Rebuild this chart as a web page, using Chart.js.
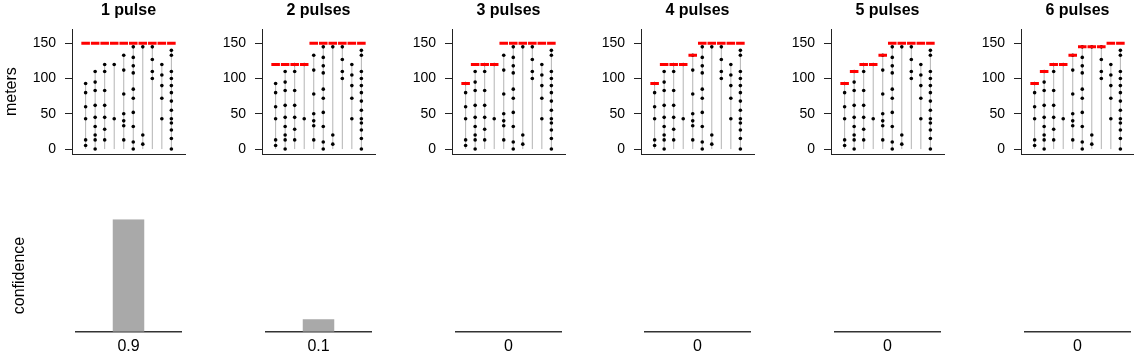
<!DOCTYPE html>
<html>
<head>
<meta charset="utf-8">
<script src="https://cdn.jsdelivr.net/npm/chart.js@4"></script>
<style>
  html, body { margin: 0; padding: 0; background: #fff; }
  body { width: 1134px; height: 357px; position: relative; overflow: hidden; }
  .box { position: absolute; }
</style>
</head>
<body>
<script>
// ---------------- data ----------------
const panelTitles = ['1 pulse', '2 pulses', '3 pulses', '4 pulses', '5 pulses', '6 pulses'];
const columnX = [1, 2, 3, 4, 5, 6, 7, 8, 9, 10];
const col1 = [93, 80, 60, 43, 13, 5];
const col2 = [110, 95, 83, 62, 45, 32, 20, 13, 0];
const col3 = [120, 110, 83, 62, 45, 28, 13];
const col4 = [120, 43];
const col5 = [133, 112, 78, 50, 40, 33, 13];
const col6 = [145, 130, 118, 108, 85, 72, 52, 32, 10, 0];
const col7 = [145, 20, 7];
const col8 = [145, 127, 110, 100];
const col9 = [120, 105, 90, 72, 43];
const col10 = [140, 133, 110, 100, 90, 80, 68, 55, 43, 37, 27, 15, 0];
const columns = [col1, col2, col3, col4, col5, col6, col7, col8, col9, col10];
const redLevels1 = [150, 150, 150, 150, 150, 150, 150, 150, 150, 150];
const redLevels2 = [120, 120, 120, 120, 150, 150, 150, 150, 150, 150];
const redLevels3 = [93, 120, 120, 120, 150, 150, 150, 150, 150, 150];
const redLevels4 = [93, 120, 120, 120, 133, 150, 150, 150, 150, 150];
const redLevels5 = [93, 110, 120, 120, 133, 150, 150, 150, 150, 150];
const redLevels6 = [93, 110, 120, 120, 133, 145, 145, 145, 150, 150];
const redLevels = [redLevels1, redLevels2, redLevels3, redLevels4, redLevels5, redLevels6];
const confidence = [0.9, 0.1, 0, 0, 0, 0];
const confidenceLabels = ['0.9', '0.1', '0', '0', '0', '0'];
const yTicks = [0, 50, 100, 150];

// ---------------- rendering ----------------
Chart.defaults.font.family = "'Liberation Sans', Arial, Helvetica, sans-serif";
Chart.defaults.color = '#000';

const PANEL_STEP = 189.8;
const RED_HALF = 0.45;

function makeCanvas(left, top, w, h) {
  const d = document.createElement('div');
  d.className = 'box';
  d.style.left = left + 'px';
  d.style.top = top + 'px';
  d.style.width = w + 'px';
  d.style.height = h + 'px';
  const c = document.createElement('canvas');
  c.width = w; c.height = h;
  c.style.width = w + 'px'; c.style.height = h + 'px';
  d.appendChild(c);
  document.body.appendChild(d);
  return c;
}

for (let i = 0; i < 6; i++) {
  const left = Math.round(PANEL_STEP * i);

  const stems = [];
  const dots = [];
  const reds = [];
  columns.forEach((vals, k) => {
    const x = columnX[k];
    const top = Math.max(...vals);
    stems.push({x: x, y: 0}, {x: x, y: top}, {x: x, y: null});
    vals.forEach(v => dots.push({x: x, y: v}));
    const lvl = redLevels[i][k];
    reds.push({x: x - RED_HALF, y: lvl}, {x: x + RED_HALF, y: lvl}, {x: x, y: null});
  });

  const topCanvas = makeCanvas(left, 0, 190, 165);
  new Chart(topCanvas, {
    type: 'line',
    data: {
      datasets: [
        { data: reds, borderColor: '#FF0000', borderWidth: 3, borderCapStyle: 'butt',
          pointRadius: 0, spanGaps: false, order: 0 },
        { data: dots, showLine: false, pointRadius: 1.8, pointBackgroundColor: '#000',
          pointBorderWidth: 0, order: 1 },
        { data: stems, borderColor: '#B4B4B4', borderWidth: 1, pointRadius: 0,
          spanGaps: false, order: 2 }
      ]
    },
    options: {
      responsive: false, animation: false, devicePixelRatio: 1,
      layout: { padding: { top: 0, right: 5, bottom: 0, left: 0 } },
      plugins: {
        legend: { display: false }, tooltip: { enabled: false },
        title: { display: true, text: panelTitles[i], fullSize: false, color: '#000',
          font: { size: 16, weight: 'bold' }, padding: { top: 1, bottom: 9 } }
      },
      scales: {
        x: { type: 'linear', min: -0.43, max: 11.43,
          ticks: { display: false }, grid: { display: false, drawTicks: false },
          border: { display: true, color: '#222', width: 1 },
          afterFit: s => { s.height = 11; s.paddingLeft = 0; s.paddingRight = 0; } },
        y: { type: 'linear', min: -7, max: 170,
          afterBuildTicks: s => { s.ticks = yTicks.map(v => ({ value: v })); },
          ticks: { color: '#000', font: { size: 14 }, padding: 9 },
          grid: { drawOnChartArea: false, drawTicks: true, tickLength: 7, color: '#222' },
          border: { display: true, color: '#222', width: 1 },
          title: { display: i === 0, text: 'meters', color: '#000', font: { size: 16 },
            padding: { top: 2, bottom: 0 } },
          afterFit: s => { s.width = 72; s.paddingTop = 0; s.paddingBottom = 0; } }
      }
    }
  });

  const botCanvas = makeCanvas(left, 190, 190, 167);
  new Chart(botCanvas, {
    type: 'bar',
    data: {
      labels: [confidenceLabels[i]],
      datasets: [{ data: [confidence[i]], backgroundColor: '#A9A9A9',
        categoryPercentage: 1, barPercentage: 0.3 }]
    },
    options: {
      responsive: false, animation: false, devicePixelRatio: 1,
      layout: { padding: { top: 29.3, right: 9, bottom: 0, left: 0 } },
      plugins: { legend: { display: false }, tooltip: { enabled: false } },
      scales: {
        x: { ticks: { color: '#000', font: { size: 16 }, padding: 5 },
          grid: { display: false, drawTicks: false },
          border: { display: true, color: '#333', width: 1.5 },
          afterFit: s => { s.height = 25.3; } },
        y: { min: 0, max: 0.9, ticks: { display: false },
          grid: { display: false, drawTicks: false }, border: { display: false },
          title: { display: i === 0, text: 'confidence', color: '#000', font: { size: 16 },
            padding: { top: 10, bottom: 0 } },
          afterFit: s => { s.width = 76; } }
      }
    }
  });
}
</script>
</body>
</html>
